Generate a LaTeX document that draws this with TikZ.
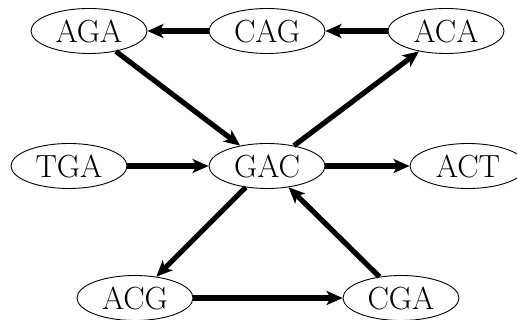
\documentclass[tikz,border=0pt]{standalone}
\usepackage{fontspec}
\usetikzlibrary{shapes.geometric,arrows.meta}
\begin{document}
\begin{tikzpicture}[x=1pt,y=1pt,
  kmer/.style={ellipse,draw,line width=0.9pt,minimum width=116pt,minimum height=45pt,inner sep=0pt,font=\fontsize{32}{34}\selectfont},
  edge/.style={line width=5.2pt,-{Stealth[length=16pt,width=14pt,inset=4pt]}}]
\useasboundingbox (0,0) rectangle (517,320);
\node[kmer] (AGA) at (89,289) {AGA};
\node[kmer] (CAG) at (267,289) {CAG};
\node[kmer] (ACA) at (446,289) {ACA};
\node[kmer] (TGA) at (69,154) {TGA};
\node[kmer] (GAC) at (267,154) {GAC};
\node[kmer] (ACT) at (468,154) {ACT};
\node[kmer] (ACG) at (135,22) {ACG};
\node[kmer] (CGA) at (401,22) {CGA};
\draw[edge] (CAG) -- (AGA);
\draw[edge] (ACA) -- (CAG);
\draw[edge] (AGA) -- (GAC);
\draw[edge] (GAC) -- (ACA);
\draw[edge] (TGA) -- (GAC);
\draw[edge] (GAC) -- (ACT);
\draw[edge] (GAC) -- (ACG);
\draw[edge] (CGA) -- (GAC);
\draw[edge] (ACG) -- (CGA);
\end{tikzpicture}
\end{document}
